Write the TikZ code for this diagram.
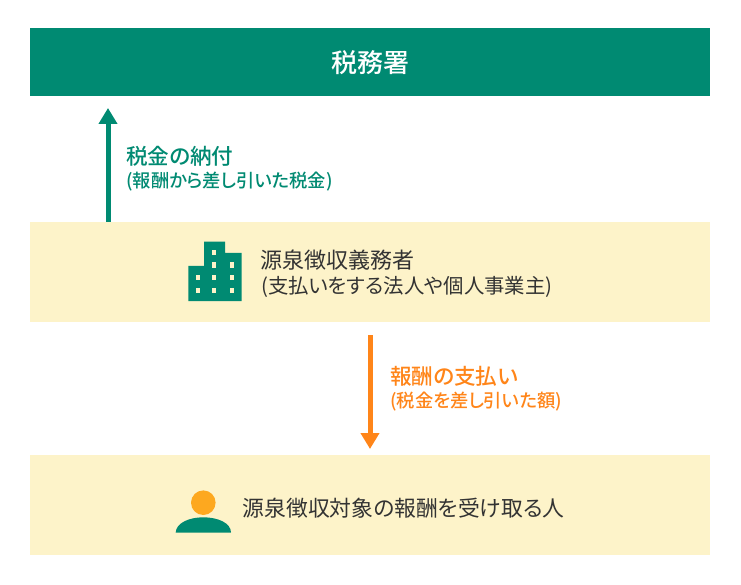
\documentclass[tikz,border=0pt]{standalone}
\usepackage{fontspec}
\setmainfont{Noto Sans CJK JP}[RawFeature=+palt]
\newfontfamily\jpmed{Noto Sans CJK JP Medium}[RawFeature=+palt]
\usetikzlibrary{arrows.meta}
\definecolor{teal0}{HTML}{008A72}
\definecolor{orange0}{HTML}{FF8519}
\definecolor{cream0}{HTML}{FDF3C9}
\definecolor{amber0}{HTML}{FDA81F}
\definecolor{ink0}{HTML}{333333}
\tikzset{
  bandbox/.style={fill=cream0,draw=none,minimum width=680pt,minimum height=100pt,inner sep=0pt,anchor=north west},
  headbox/.style={fill=teal0,draw=none,minimum width=680pt,minimum height=68pt,inner sep=0pt,anchor=north west,text=white,font=\jpmed\fontsize{26}{30}\selectfont},
  bigtxt/.style={anchor=west,inner sep=0pt,font=\fontsize{22}{26}\selectfont},
  smalltxt/.style={anchor=west,inner sep=0pt,font=\fontsize{20.4}{26}\selectfont},
  subtxt/.style={anchor=west,inner sep=0pt,font=\jpmed\fontsize{18.3}{20}\selectfont},
  labtxt/.style={anchor=west,inner sep=0pt,font=\jpmed\fontsize{21.6}{26}\selectfont},
  flowarrow/.style={line width=5pt,-{Triangle[length=16pt,width=18pt]}},
  windowcell/.style={fill=cream0,draw=none}
}
\newcommand{\wincell}[2]{\fill[windowcell] (#1-2,#2-2.5) rectangle (#1+2,#2+2.5);}
\begin{document}
\begin{tikzpicture}[x=1pt,y=-1pt]
\useasboundingbox (0,0) rectangle (741,585);
\fill[white] (0,0) rectangle (741,585);
\node[headbox] (tax) at (30,28) {税務署};
\node[bandbox] (payer) at (30,222) {};
\node[bandbox] (payee) at (30,455) {};
\coordinate (upstart) at (108,222);
\coordinate (upend) at (108,108);
\coordinate (downstart) at (370,335);
\coordinate (downend) at (370,449);
\draw[flowarrow,teal0] (upstart) -- (upend);
\draw[flowarrow,orange0] (downstart) -- (downend);
\node[labtxt,text=teal0] (l1) at (126,156) {税金の納付};
\node[subtxt,text=teal0] (l2) at (126,181.5) {(報酬から差し引いた税金)};
\node[labtxt,text=orange0] (l3) at (390,376.5) {報酬の支払い};
\node[subtxt,text=orange0] (l4) at (390,401.5) {(税金を差し引いた額)};
\node[bigtxt,text=ink0] (p1) at (260.5,260) {源泉徴収義務者};
\node[smalltxt,text=ink0] (p2) at (261,286.5) {(支払いをする法人や個人事業主)};
\node[bigtxt,text=ink0,font=\fontsize{21.8}{26}\selectfont] (r1) at (242.5,508) {源泉徴収対象の報酬を受け取る人};
% building
\fill[teal0] (188.3,301) -- (188.3,266) -- (204,266) -- (204,241.7) -- (225,241.7) -- (225,253) -- (241.7,253) -- (241.7,301) -- cycle;
\wincell{214.3}{252.3}
\wincell{214.3}{265}\wincell{231.7}{265}
\wincell{197.7}{277.7}\wincell{214.3}{277.7}\wincell{231.7}{277.7}
\wincell{197.7}{290.3}\wincell{214.3}{290.3}\wincell{231.7}{290.3}
% person
\fill[amber0] (203.3,502.7) circle (12.3);
\fill[teal0] (175.7,532.7) .. controls (176,523) and (189,517.3) .. (203.3,517.3) .. controls (218,517.3) and (231,523) .. (231,532.7) -- cycle;
\end{tikzpicture}
\end{document}
